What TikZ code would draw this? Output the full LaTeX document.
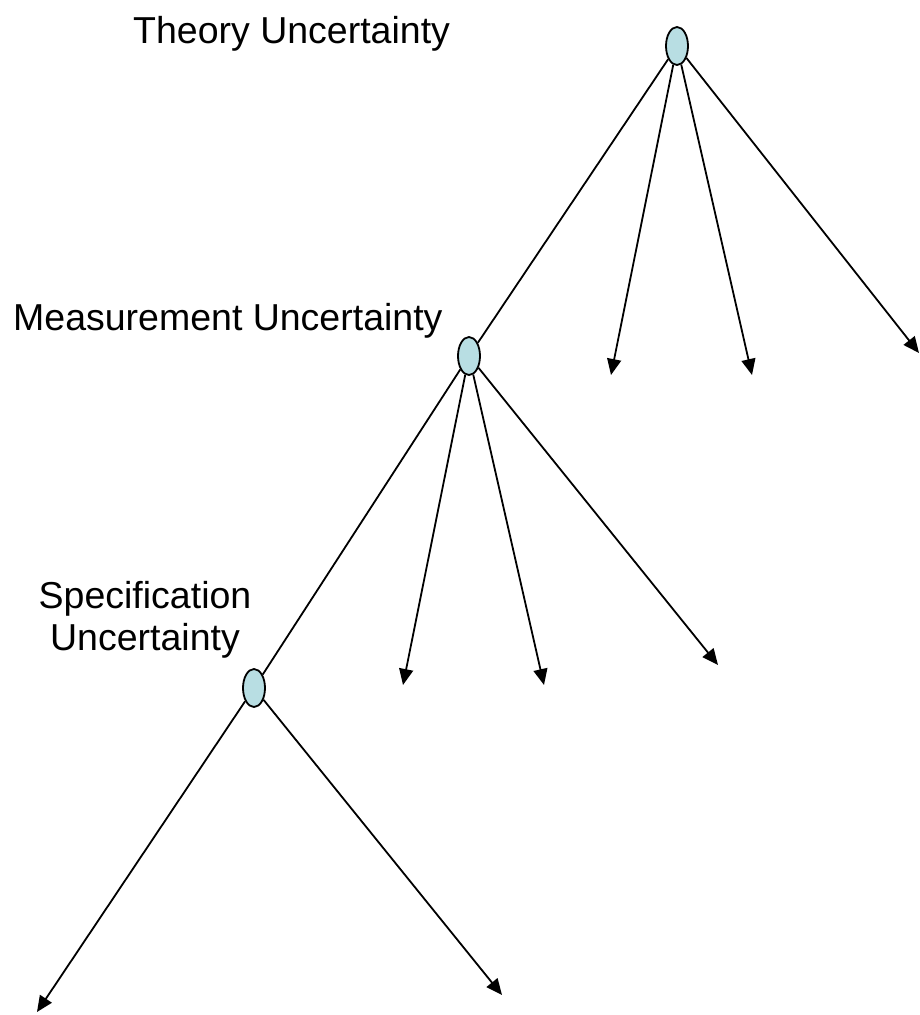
\documentclass[tikz,border=0pt]{standalone}
\usepackage{fontspec}
\setmainfont{Liberation Sans}
\usetikzlibrary{arrows.meta,shapes.geometric}
\definecolor{nodefill}{RGB}{184,222,227}
\begin{document}
\begin{tikzpicture}[x=1pt,y=-1pt,
  chance/.style={ellipse,draw=black,line width=1.8pt,fill=nodefill,minimum width=22pt,minimum height=38pt,inner sep=0pt},
  link/.style={draw=black,line width=1.8pt},
  branch/.style={link,-{Triangle[length=16pt,width=14pt]}},
  lbl/.style={font=\fontsize{37.5}{30}\selectfont,inner sep=0pt}]
\useasboundingbox (0,0) rectangle (920,1015);
\node[chance] (t) at (677,46) {};
\node[chance] (m) at (469,356) {};
\node[chance] (s) at (254,688) {};
\node[lbl,anchor=base west] (tl) at (133,43) {Theory Uncertainty};
\node[lbl,anchor=base west] (ml) at (13,330) {Measurement Uncertainty};
\node[lbl,anchor=base] (sl1) at (145,608) {Specification};
\node[lbl,anchor=base] (sl2) at (145,650) {Uncertainty};
\coordinate (t1) at (611,375);
\coordinate (t2) at (752,375);
\coordinate (t3) at (919,353);
\coordinate (m1) at (403,685);
\coordinate (m2) at (544,685);
\coordinate (m3) at (718,665);
\coordinate (s1) at (37,1012);
\coordinate (s2) at (502,995);
\draw[link] (t) -- (m);
\draw[link] (m) -- (s);
\draw[branch] (t) -- (t1);
\draw[branch] (t) -- (t2);
\draw[branch] (t) -- (t3);
\draw[branch] (m) -- (m1);
\draw[branch] (m) -- (m2);
\draw[branch] (m) -- (m3);
\draw[branch] (s) -- (s1);
\draw[branch] (s) -- (s2);
\end{tikzpicture}
\end{document}
